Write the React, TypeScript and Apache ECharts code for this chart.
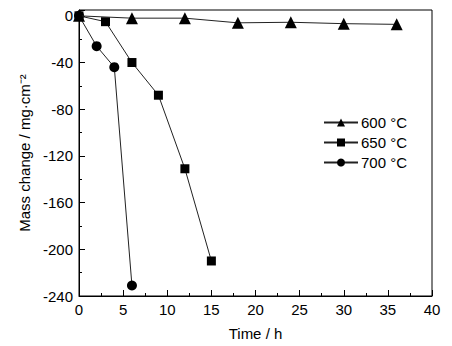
import React, { useEffect, useRef } from "react";
import * as echarts from "echarts";

const seriesNames = ["600 °C", "650 °C", "700 °C"];
const time600 = [0, 6, 12, 18, 24, 30, 36];
const mass600 = [0, -2, -2, -6, -5.5, -6.7, -7.3];
const time650 = [0, 3, 6, 9, 12, 15];
const mass650 = [0, -5, -40, -68, -131, -210];
const time700 = [0, 2, 4, 6];
const mass700 = [0, -26, -44, -231];
const symbols = ["triangle", "rect", "circle"];
const symbolSizes = [12, 9, 10];

const FONT = "Liberation Sans, Arial, sans-serif";

export default function App() {
  const ref = useRef<HTMLDivElement>(null);
  useEffect(() => {
    if (!ref.current) return;
    const chart = echarts.init(ref.current, undefined, { renderer: "svg" });
    const xs = [time600, time650, time700];
    const ys = [mass600, mass650, mass700];
    chart.setOption({
      animation: false,
      backgroundColor: "#ffffff",
      textStyle: { fontFamily: FONT, color: "#000" },
      grid: {
        left: 79,
        right: 20,
        top: 10,
        bottom: 48,
        show: true,
        borderColor: "#000",
        borderWidth: 1,
      },
      legend: {
        orient: "vertical",
        left: 318,
        top: 110,
        itemWidth: 34,
        itemHeight: 10,
        itemGap: 5,
        textStyle: { fontFamily: FONT, fontSize: 15, color: "#000", padding: [0, 0, 0, -2] },
        data: seriesNames,
      },
      xAxis: {
        type: "value",
        min: 0,
        max: 40,
        interval: 5,
        name: "Time / h",
        nameLocation: "middle",
        nameGap: 30,
        nameTextStyle: { fontFamily: FONT, fontSize: 15, color: "#000" },
        axisLine: { onZero: false, lineStyle: { color: "#000", width: 1 } },
        axisTick: { inside: true, length: 6, lineStyle: { color: "#000" } },
        minorTick: { show: true, splitNumber: 2, length: 3, lineStyle: { color: "#000" } },
        axisLabel: { fontFamily: FONT, fontSize: 15, color: "#000", margin: 6 },
        splitLine: { show: false },
      },
      yAxis: {
        type: "value",
        min: -240,
        max: 5,
        interval: 40,
        name: "Mass change / mg·cm⁻²",
        nameLocation: "middle",
        nameRotate: 90,
        nameGap: 45,
        nameTextStyle: { fontFamily: FONT, fontSize: 15, color: "#000" },
        axisLine: { show: true, lineStyle: { color: "#000", width: 1 } },
        axisTick: { inside: true, length: 6, lineStyle: { color: "#000" } },
        minorTick: { show: true, splitNumber: 2, length: 3, lineStyle: { color: "#000" } },
        axisLabel: {
          fontFamily: FONT,
          fontSize: 15,
          color: "#000",
          margin: 6,
          formatter: (v: number) => (v % 40 === 0 ? String(v) : ""),
        },
        splitLine: { show: false },
      },
      series: seriesNames.map((name, i) => ({
        name,
        type: "line",
        data: xs[i].map((x, j) => [x, ys[i][j]]),
        symbol: symbols[i],
        symbolSize: symbolSizes[i],
        showAllSymbol: true,
        itemStyle: { color: "#000" },
        lineStyle: { color: "#222", width: 1 },
        z: 3 - i,
      })),
    });
    return () => chart.dispose();
  }, []);
  return <div ref={ref} style={{ width: 452, height: 346, position: "absolute", left: 0, top: 0 }} />;
}
